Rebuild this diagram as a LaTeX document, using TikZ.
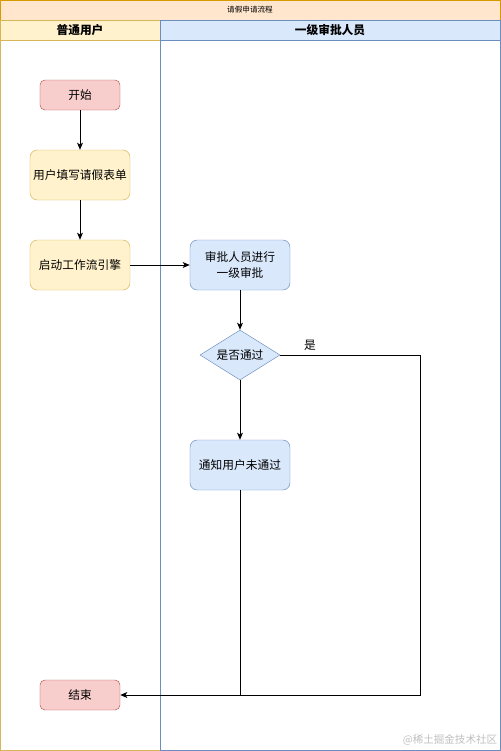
\documentclass[tikz,border=0pt]{standalone}
\usepackage{fontspec}
\newfontfamily\cjk{Noto Sans CJK SC}
\usetikzlibrary{shapes.geometric,arrows.meta}
\definecolor{poolfill}{HTML}{FFE6CC}
\definecolor{pooldraw}{HTML}{D79B00}
\definecolor{userfill}{HTML}{FFF2CC}
\definecolor{userdraw}{HTML}{D6B656}
\definecolor{bossfill}{HTML}{DAE8FC}
\definecolor{bossdraw}{HTML}{6C8EBF}
\definecolor{endfill}{HTML}{F8CECC}
\definecolor{enddraw}{HTML}{B85450}
\tikzstyle{terminal}=[draw=enddraw,fill=endfill,rounded corners=0.15cm,minimum width=2.4cm,minimum height=0.9cm,inner sep=0pt,font=\cjk\fontsize{10}{12}\selectfont]
\tikzstyle{userstep}=[draw=userdraw,fill=userfill,rounded corners=0.22cm,minimum width=3cm,minimum height=1.5cm,inner sep=0pt,font=\cjk\fontsize{10}{12}\selectfont]
\tikzstyle{bossstep}=[draw=bossdraw,fill=bossfill,rounded corners=0.22cm,minimum width=3cm,minimum height=1.5cm,inner sep=0pt,align=center,font=\cjk\fontsize{10}{13}\selectfont]
\tikzstyle{decision}=[diamond,shape aspect=1.6,draw=bossdraw,fill=bossfill,minimum width=2.4cm,minimum height=1.5cm,inner sep=0pt,font=\cjk\fontsize{10}{12}\selectfont]
\tikzstyle{flow}=[-{Stealth[length=6pt,width=5pt,inset=1.5pt]},line width=0.8pt]
\tikzstyle{plainflow}=[line width=0.8pt]

\begin{document}
\begin{tikzpicture}[x=0.03cm,y=-0.03cm]
	\useasboundingbox (0,0) rectangle (501,751);
	% pool and lanes
	\draw[draw=pooldraw,fill=poolfill,line width=0.8pt] (0.5,0.5) rectangle (500,20);
	\node[font=\cjk\fontsize{6.5}{8}\selectfont] (title) at (250,10) {请假申请流程};
	\draw[draw=userdraw,line width=0.8pt] (0.5,20) rectangle (160,750);
	\draw[draw=userdraw,fill=userfill,line width=0.8pt] (0.5,20) rectangle (160,40);
	\draw[draw=bossdraw,line width=0.8pt] (160,20) rectangle (500,750);
	\draw[draw=bossdraw,fill=bossfill,line width=0.8pt] (160,20) rectangle (500,40);
	\node[font=\cjk\bfseries\fontsize{10}{12}\selectfont] (userlane) at (80,30) {普通用户};
	\node[font=\cjk\bfseries\fontsize{10}{12}\selectfont] (bosslane) at (330,30) {一级审批人员};
	% steps
	\node[terminal] (start) at (80,95) {开始};
	\node[userstep] (fill) at (80,175) {用户填写请假表单};
	\node[userstep] (engine) at (80,265) {启动工作流引擎};
	\node[bossstep] (approve) at (240,265) {审批人员进行\\一级审批};
	\node[decision] (check) at (240,355) {是否通过};
	\node[bossstep] (notify) at (240,465) {通知用户未通过};
	\node[terminal] (end) at (80,695) {结束};
	\coordinate (corner) at (420,355);
	% connectors
	\draw[flow] (start) -- (fill);
	\draw[flow] (fill) -- (engine);
	\draw[flow] (engine) -- (approve);
	\draw[flow] (approve) -- (check);
	\draw[flow] (check) -- (notify);
	\draw[flow] (check.east) -- (corner) |- (end.east);
	\node[font=\cjk\fontsize{10}{12}\selectfont] (yes) at (310,345) {是};
	\draw[plainflow] (notify.south) -- (notify.south |- end.east);
	\node[font=\cjk\fontsize{9}{11}\selectfont,text=black!25] (mark) at (450,740) {@稀土掘金技术社区};
\end{tikzpicture}
\end{document}
